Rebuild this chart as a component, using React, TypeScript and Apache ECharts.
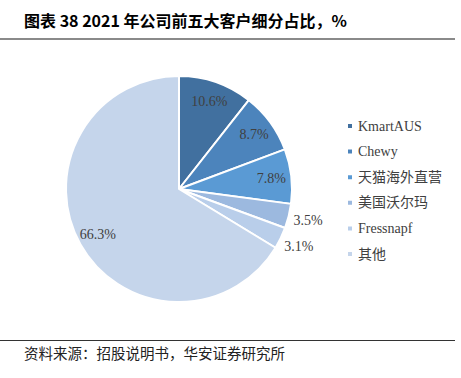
import React, { useEffect, useRef } from "react";
import * as echarts from "echarts";

const categories = ["KmartAUS", "Chewy", "天猫海外直营", "美国沃尔玛", "Fressnapf", "其他"];
const shares = [10.6, 8.7, 7.8, 3.5, 3.1, 66.3];
const colors = ["#41709F", "#4C84BC", "#5A9AD4", "#9CB9DF", "#B9CEEA", "#C5D5EB"];
const outsideLabels = [false, false, false, true, true, false];

const titleText = "图表 38 2021 年公司前五大客户细分占比，%";
const sourceText = "资料来源：招股说明书，华安证券研究所";

export default function App() {
  const ref = useRef<HTMLDivElement>(null);
  useEffect(() => {
    const chart = echarts.init(ref.current!, null, { renderer: "svg" });
    const center = [179, 189];
    const R = 113;
    const serif = "'Liberation Serif', 'Noto Sans CJK SC', serif";
    const base = categories.map((n, i) => ({ name: n, value: shares[i], itemStyle: { color: colors[i] } }));
    chart.setOption({
      animation: false,
      backgroundColor: "#ffffff",
      legend: {
        orient: "vertical",
        left: 341,
        top: 113,
        icon: "rect",
        itemWidth: 6,
        itemHeight: 6,
        itemGap: 9.6,
        data: categories,
        textStyle: { fontFamily: serif, fontSize: 14, color: "#404040", lineHeight: 16 },
      },
      graphic: [
        {
          type: "text",
          left: 24,
          top: 12,
          style: { text: titleText, font: "bold 16px 'Noto Sans CJK SC', sans-serif", fill: "#000" },
        },
        { type: "line", shape: { x1: 0, y1: 39, x2: 455, y2: 39 }, style: { stroke: "#8a8a8a", lineWidth: 2 } },
        { type: "line", shape: { x1: 0, y1: 340.5, x2: 455, y2: 340.5 }, style: { stroke: "#333", lineWidth: 1 } },
        {
          type: "text",
          left: 24,
          top: 345,
          style: { text: sourceText, font: "14.5px 'Noto Sans CJK SC', serif", fill: "#222" },
        },
      ],
      series: [
        {
          type: "pie",
          center,
          radius: [0, R],
          startAngle: 90,
          clockwise: true,
          label: { show: false },
          labelLine: { show: false },
          itemStyle: { borderColor: "#fff", borderWidth: 2 },
          data: base,
        },
        {
          type: "pie",
          center,
          radius: [67, R],
          startAngle: 90,
          clockwise: true,
          silent: true,
          legendHoverLink: false,
          itemStyle: { color: "rgba(0,0,0,0)" },
          label: {
            position: "inside",
            formatter: (p: any) => p.value.toFixed(1) + "%",
            fontFamily: serif,
            fontSize: 14,
            color: "#404040",
          },
          data: categories.map((n, i) => ({
            name: n,
            value: shares[i],
            label: { show: !outsideLabels[i] },
          })),
        },
        {
          type: "pie",
          center,
          radius: [R, 147],
          startAngle: 90,
          clockwise: true,
          silent: true,
          legendHoverLink: false,
          itemStyle: { color: "rgba(0,0,0,0)" },
          label: {
            position: "inside",
            formatter: (p: any) => p.value.toFixed(1) + "%",
            fontFamily: serif,
            fontSize: 14,
            color: "#404040",
          },
          data: categories.map((n, i) => ({
            name: n,
            value: shares[i],
            label: { show: outsideLabels[i] },
          })),
        },
      ],
    });
    return () => chart.dispose();
  }, []);
  return <div ref={ref} style={{ position: "fixed", left: 0, top: 0, width: 461, height: 378 }} />;
}
